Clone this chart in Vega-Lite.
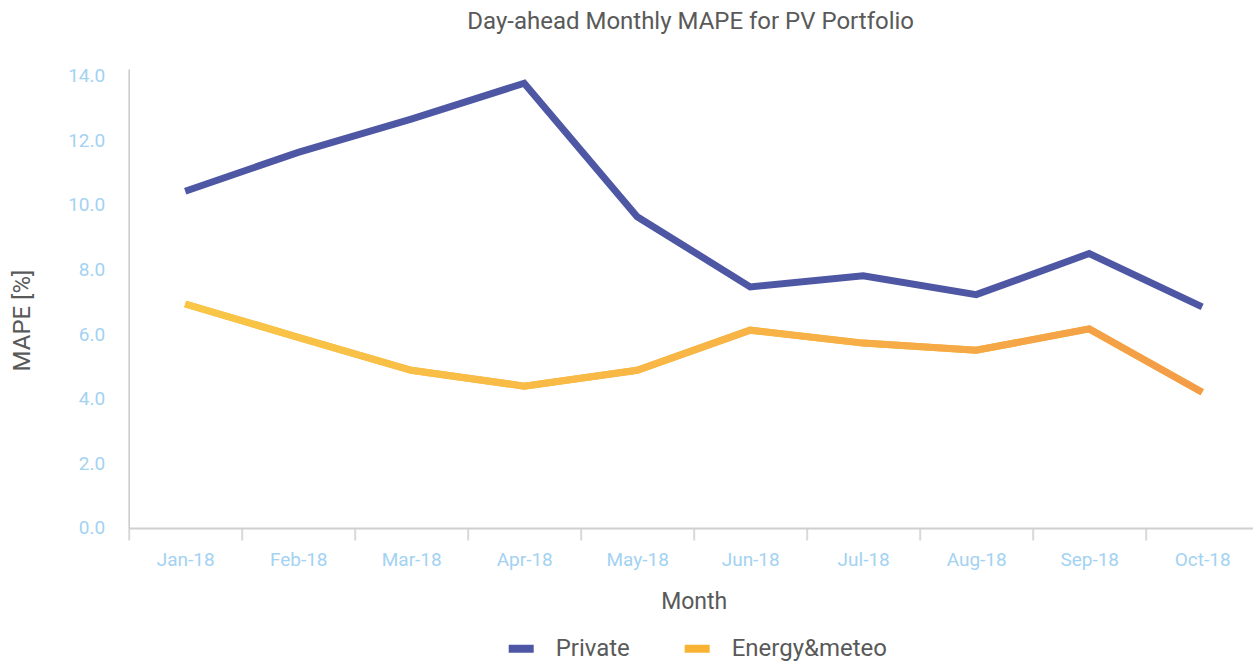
{
  "$schema": "https://vega.github.io/schema/vega-lite/v6.json",
  "width": 1124,
  "height": 459,
  "autosize": {"type": "none"},
  "padding": {"left": 128.7, "top": 69, "right": 0, "bottom": 138},
  "background": "white",
  "config": {
    "view": {"stroke": null},
    "font": "Roboto"
  },
  "title": {
    "text": "Day-ahead Monthly MAPE for PV Portfolio",
    "font": "Roboto",
    "fontSize": 24,
    "fontWeight": "normal",
    "color": "#595959",
    "anchor": "middle",
    "frame": "group",
    "baseline": "alphabetic",
    "offset": 13
  },
  "data": {
    "values": [
      {"month": "Jan-18", "series": "Private", "mape": 10.42},
      {"month": "Feb-18", "series": "Private", "mape": 11.62},
      {"month": "Mar-18", "series": "Private", "mape": 12.65},
      {"month": "Apr-18", "series": "Private", "mape": 13.76},
      {"month": "May-18", "series": "Private", "mape": 9.63},
      {"month": "Jun-18", "series": "Private", "mape": 7.46},
      {"month": "Jul-18", "series": "Private", "mape": 7.8},
      {"month": "Aug-18", "series": "Private", "mape": 7.22},
      {"month": "Sep-18", "series": "Private", "mape": 8.49},
      {"month": "Oct-18", "series": "Private", "mape": 6.84},
      {"month": "Jan-18", "series": "Energy&meteo", "mape": 6.93},
      {"month": "Feb-18", "series": "Energy&meteo", "mape": 5.9},
      {"month": "Mar-18", "series": "Energy&meteo", "mape": 4.88},
      {"month": "Apr-18", "series": "Energy&meteo", "mape": 4.39},
      {"month": "May-18", "series": "Energy&meteo", "mape": 4.88},
      {"month": "Jun-18", "series": "Energy&meteo", "mape": 6.12},
      {"month": "Jul-18", "series": "Energy&meteo", "mape": 5.72},
      {"month": "Aug-18", "series": "Energy&meteo", "mape": 5.5},
      {"month": "Sep-18", "series": "Energy&meteo", "mape": 6.16},
      {"month": "Oct-18", "series": "Energy&meteo", "mape": 4.2}
    ]
  },
  "encoding": {
    "x": {
      "field": "month",
      "type": "ordinal",
      "sort": ["Jan-18", "Feb-18", "Mar-18", "Apr-18", "May-18", "Jun-18", "Jul-18", "Aug-18", "Sep-18", "Oct-18"],
      "bandPosition": 0.5,
      "scale": {"type": "band", "paddingInner": 0, "paddingOuter": 0, "range": [0, 1130]},
      "axis": {
        "title": "Month",
        "titleFont": "Roboto",
        "titleFontSize": 23,
        "titleFontWeight": "normal",
        "titleColor": "#595959",
        "titlePadding": 21,
        "labelFont": "Roboto",
        "labelFontSize": 19,
        "labelColor": "#A3D2F2",
        "labelAngle": 0,
        "labelPadding": 11,
        "tickBand": "extent",
        "tickSize": 12,
        "tickWidth": 2,
        "tickColor": "#D9D9D9",
        "domainColor": "#CFCFCF",
        "domainWidth": 2,
        "grid": false
      }
    },
    "y": {
      "field": "mape",
      "type": "quantitative",
      "scale": {"domain": [0, 14.2], "nice": false, "zero": true},
      "axis": {
        "title": "MAPE [%]",
        "titleFont": "Roboto",
        "titleFontSize": 24,
        "titleFontWeight": "normal",
        "titleColor": "#595959",
        "titleX": -106,
        "titleY": 251,
        "titleAngle": -90,
        "titleAlign": "center",
        "titleBaseline": "middle",
        "values": [0, 2, 4, 6, 8, 10, 12, 14],
        "format": ".1f",
        "labelFont": "Roboto",
        "labelFontSize": 19,
        "labelColor": "#A3D2F2",
        "labelPadding": 24,
        "ticks": false,
        "grid": false,
        "domainColor": "#C8C8C8",
        "domainWidth": 1.5
      }
    }
  },
  "layer": [
    {
      "mark": {"type": "line", "strokeWidth": 7},
      "encoding": {
        "color": {
          "field": "series",
          "type": "nominal",
          "scale": {"domain": ["Private", "Energy&meteo"], "range": ["#4E57A4", "#F8B334"]},
          "legend": {
            "title": null,
            "orient": "none",
            "direction": "horizontal",
            "legendX": 376,
            "legendY": 563,
            "padding": 0,
            "symbolType": "stroke",
            "symbolSize": 625,
            "symbolStrokeWidth": 8,
            "labelFont": "Roboto",
            "labelFontSize": 24,
            "labelColor": "#595959",
            "labelOffset": 18,
            "columnPadding": 38
          }
        }
      }
    },
    {
      "transform": [{"filter": "datum.series === 'Energy&meteo'"}],
      "mark": {
        "type": "line",
        "strokeWidth": 7,
        "stroke": {
          "gradient": "linear",
          "x1": 0, "y1": 0, "x2": 1, "y2": 0,
          "stops": [
            {"offset": 0, "color": "#F9C646"},
            {"offset": 0.55, "color": "#F8B446"},
            {"offset": 1, "color": "#F39C47"}
          ]
        }
      },
      "encoding": {}
    }
  ]
}
